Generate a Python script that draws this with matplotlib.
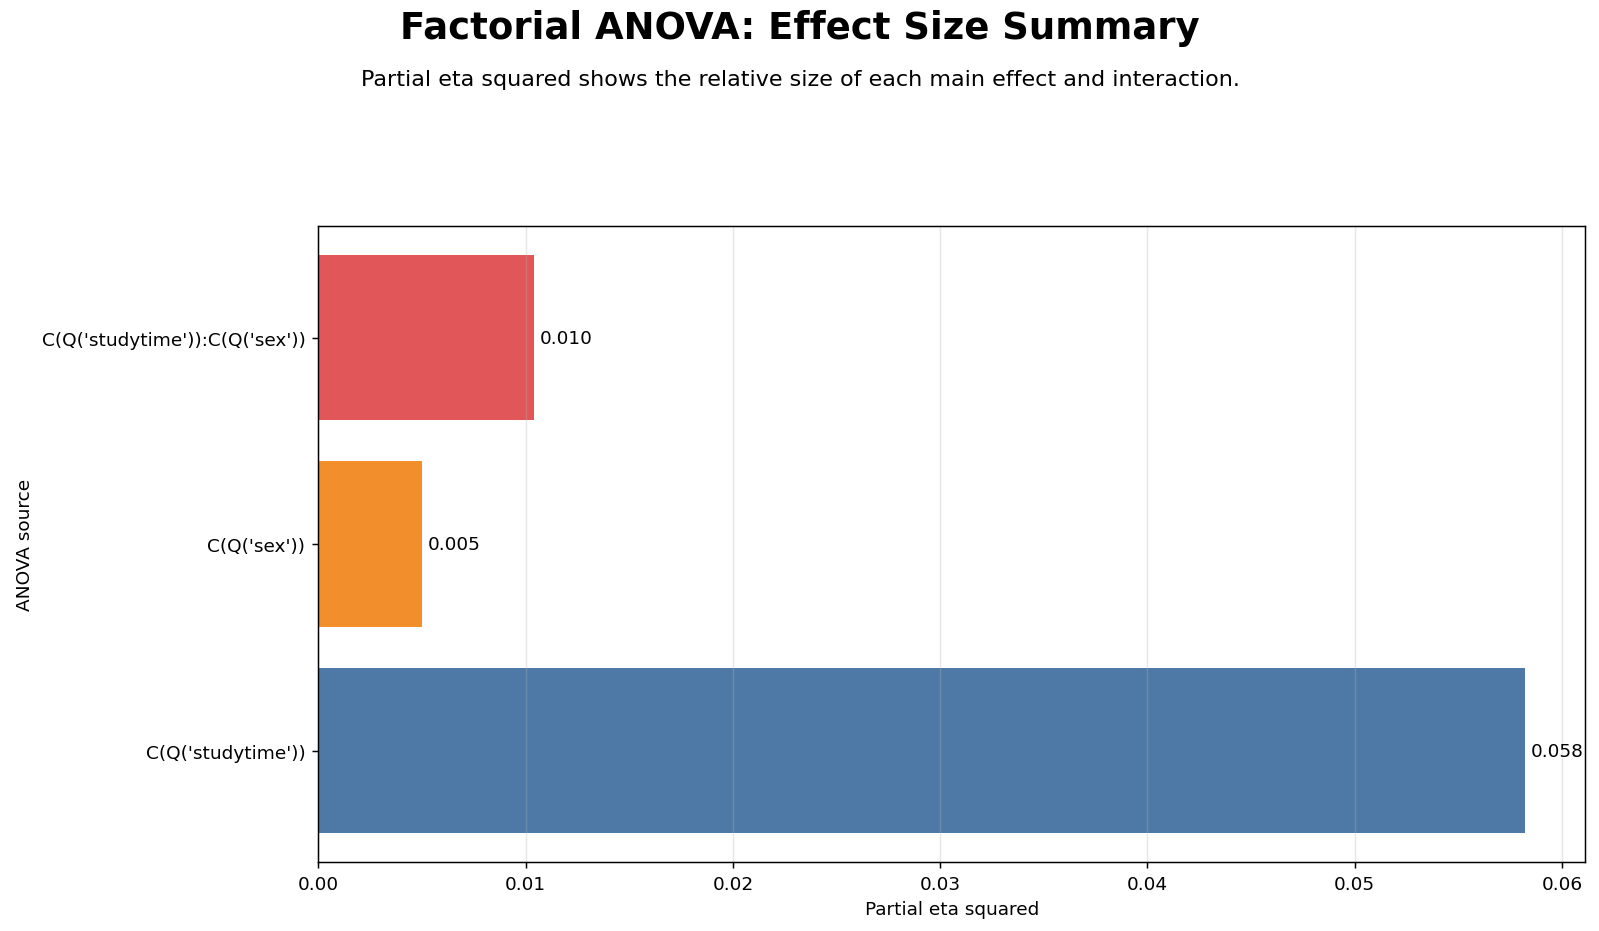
import matplotlib
matplotlib.use("Agg")
import matplotlib.pyplot as plt

# ANOVA effect sizes (partial eta squared), bottom to top
sources = ["C(Q('studytime'))", "C(Q('sex'))", "C(Q('studytime')):C(Q('sex'))"]
eta_sq = [0.0582, 0.0050, 0.0104]
colors = ["#4e79a7", "#f28e2b", "#e15759"]

fig, ax = plt.subplots(figsize=(12, 6.99), dpi=133.333)
fig.subplots_adjust(left=0.199, right=0.9906, top=0.7564, bottom=0.074)

ax.barh(sources, eta_sq, color=colors, height=0.8)
ax.grid(axis="x", alpha=0.3)

off = max(eta_sq) * 0.005
for i, v in enumerate(eta_sq):
    ax.text(v + off, i, f"{v:.3f}", va="center", ha="left", fontsize=10)

ax.set_xlabel("Partial eta squared")
ax.set_ylabel("ANOVA source")

fig.text(0.5, 0.969, "Factorial ANOVA: Effect Size Summary",
         ha="center", va="center", fontsize=20, fontweight="bold")
fig.text(0.5, 0.914,
         "Partial eta squared shows the relative size of each main effect and interaction.",
         ha="center", va="center", fontsize=12)

fig.savefig("out.png", dpi=133.333)
